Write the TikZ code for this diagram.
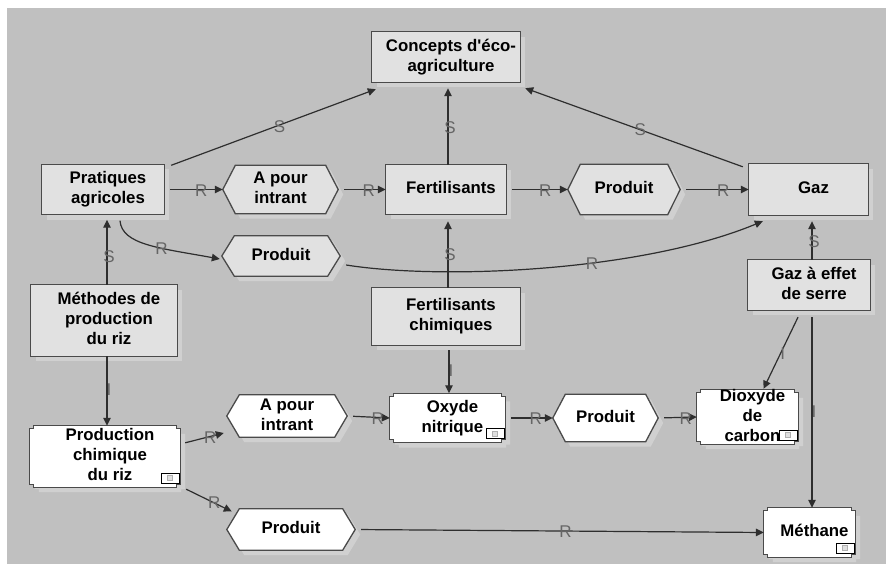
\documentclass[tikz,border=0pt]{standalone}
\usepackage{fontspec}
\setmainfont{Liberation Sans}
\usetikzlibrary{arrows.meta}

\definecolor{bgc}{HTML}{C0C0C0}
\definecolor{shadowc}{HTML}{D0D0D0}
\definecolor{boxc}{HTML}{E1E1E1}
\definecolor{framec}{HTML}{4A4A4A}
\definecolor{linec}{HTML}{2E2E2E}
\definecolor{labc}{HTML}{666666}
\definecolor{iconc}{HTML}{B0B0B0}

\pgfdeclarelayer{bg}
\pgfdeclarelayer{shapes}
\pgfsetlayers{bg,shapes,main}

% centred multi-line labels that never enlarge their node
\newcommand\btxt[1]{\smash{\raisebox{-4.5pt}{\hspace*{10pt}\begin{tabular}{@{}c@{}}#1\end{tabular}}}}
\newcommand\htxt[1]{\smash{\raisebox{-4.5pt}{\begin{tabular}{@{}c@{}}#1\end{tabular}}}}

% outline of a relation node: pointed on both sides
\newcommand\hexpath[1]{(#1.west) -- ([xshift=12.5pt]#1.north west) -- ([xshift=-12.5pt]#1.north east) -- (#1.east) -- ([xshift=-12.5pt]#1.south east) -- ([xshift=12.5pt]#1.south west) -- cycle}

% outline of an instance node: box with notched corners
\newcommand\notchpath[1]{([shift={(0,3)}]#1.north west) -- ([shift={(4,3)}]#1.north west) -- ([shift={(4,0)}]#1.north west) -- ([shift={(-4,0)}]#1.north east) -- ([shift={(-4,3)}]#1.north east) -- ([shift={(0,3)}]#1.north east) -- ([shift={(0,-3)}]#1.south east) -- ([shift={(-4,-3)}]#1.south east) -- ([shift={(-4,0)}]#1.south east) -- ([shift={(4,0)}]#1.south west) -- ([shift={(4,-3)}]#1.south west) -- ([shift={(0,-3)}]#1.south west) -- cycle}

\begin{document}
\begin{tikzpicture}[x=1pt,y=-1pt,
  item/.style={shape=rectangle, inner sep=0pt, text=black, font=\fontsize{16.8}{20}\selectfont\bfseries},
  sz/.style 2 args={minimum width=#1pt, minimum height=#2pt},
  boxframe/.style={draw=framec, line width=1.3pt, line join=miter},
  shadowfill/.style={fill=shadowc, transform canvas={xshift=5pt,yshift=-5pt}},
  conn/.style={draw=linec, line width=1.2pt, -{Triangle[length=8pt,width=7.5pt]}},
  lab/.style={font=\fontsize{17}{17}\selectfont, text=labc, inner sep=0pt, xshift=2pt, yshift=-1pt}]

\useasboundingbox (0,0) rectangle (886,564);

% concepts, relations and instances
\node[item, sz={148}{50}] (con) at (446,57)    {\btxt{Concepts d\textquotesingle éco-\\agriculture}};
\node[item, sz={122}{50}] (pra) at (103,189.5) {\btxt{Pratiques\\agricoles}};
\node[item, sz={115}{48}] (ap1) at (280.5,189.5) {\htxt{A pour\\intrant}};
\node[item, sz={120}{49}] (fer) at (446,189.5) {\btxt{Fertilisants}};
\node[item, sz={112}{50}] (pr1) at (624,189.5) {\htxt{Produit}};
\node[item, sz={119}{51}] (gaz) at (808.5,189.5) {\btxt{Gaz}};
\node[item, sz={118}{40}] (pr2) at (281,256)   {\htxt{Produit}};
\node[item, sz={122}{50}] (ges) at (809,285)   {\btxt{Gaz à effet\\de serre}};
\node[item, sz={146}{71}] (met) at (104,320.5) {\btxt{Méthodes de\\production\\du riz}};
\node[item, sz={148}{57}] (fch) at (446,316.5) {\btxt{Fertilisants\\chimiques}};
\node[item, sz={150}{61}] (pch) at (105,456.5) {\btxt{Production\\chimique\\du riz}};
\node[item, sz={120}{42}] (ap2) at (287,416)   {\htxt{A pour\\intrant}};
\node[item, sz={115}{49}] (oxy) at (447.5,418) {\btxt{Oxyde\\nitrique}};
\node[item, sz={105}{47}] (pr3) at (605.5,418) {\htxt{Produit}};
\node[item, sz={101}{54}] (dio) at (747.5,417) {\btxt{Dioxyde\\de\\carbon}};
\node[item, sz={128}{41}] (pr4) at (291,529.5) {\htxt{Produit}};
\node[item, sz={91}{49}]  (mth) at (809.5,532.5) {\btxt{Méthane}};

% page and canvas
\begin{pgfonlayer}{bg}
  \fill[white] (0,0) rectangle (886,564);
  \fill[bgc] (7,8) rectangle (886,564);
\end{pgfonlayer}

% node outlines with their shadows
\begin{pgfonlayer}{shapes}
  \foreach \n in {con,pra,fer,gaz,ges,met,fch}{
    \fill[shadowfill] (\n.north west) rectangle (\n.south east);
    \filldraw[boxframe, fill=boxc] (\n.north west) rectangle (\n.south east);
  }
  \foreach \n/\c in {ap1/boxc,pr1/boxc,pr2/boxc,ap2/white,pr3/white,pr4/white}{
    \fill[shadowfill] \hexpath{\n};
    \filldraw[boxframe, fill=\c] \hexpath{\n};
  }
  \foreach \n in {pch,oxy,dio,mth}{
    \fill[shadowfill] \notchpath{\n};
    \filldraw[boxframe, fill=white] \notchpath{\n};
    \filldraw[draw=black, line width=1.2pt, fill=white] ([shift={(-19,-14)}]\n.south east) rectangle ([shift={(-1,-4)}]\n.south east);
    \filldraw[draw=iconc, fill=iconc!40, line width=0.6pt] ([shift={(-12.5,-11.5)}]\n.south east) rectangle ([shift={(-7.5,-6.5)}]\n.south east);
  }
\end{pgfonlayer}

% subsumption links to the top concept
\draw[conn] ([shift={(7,1)}]pra.north east) -- node[lab,pos=0.52]{S} ([shift={(4,7)}]con.south west);
\draw[conn] ([xshift=2pt]fer.north) -- node[lab,pos=0.5]{S} ([shift={(2,6)}]con.south);
\draw[conn] ([shift={(-6,3)}]gaz.north west) -- node[lab,pos=0.48]{S} ([shift={(5,6)}]con.south east);

% relation chain on the upper row
\draw[conn, shorten <=6pt] (pra.east) -- node[lab,pos=0.6]{R} (ap1.west);
\draw[conn, shorten <=6pt] (ap1.east) -- node[lab,pos=0.6]{R} (fer.west);
\draw[conn, shorten <=6pt] (fer.east) -- node[lab,pos=0.6]{R} (pr1.west);
\draw[conn, shorten <=6pt] (pr1.east) -- node[lab,pos=0.6]{R} (gaz.west);

% curved relation through the middle "Produit"
\draw[conn] ([shift={(17,6)}]pra.south) .. controls (122,245) and (160,248) .. node[lab,pos=0.6]{R} ([shift={(-2,3)}]pr2.west);
\draw[conn] ([shift={(6,9)}]pr2.east) .. controls (440,280) and (640,272) .. node[lab,pos=0.6]{R} ([shift={(14,6)}]gaz.south west);

% subsumption links from below
\draw[conn, shorten >=5pt] ([xshift=3pt]met.north) -- node[lab,pos=0.41]{S} ([xshift=4pt]pra.south);
\draw[conn, shorten >=7pt] ([xshift=2pt]fch.north) -- node[lab,pos=0.46]{S} ([xshift=2pt]fer.south);
\draw[conn, shorten >=6pt] ([xshift=3pt]ges.north) -- node[lab,pos=0.44]{S} ([xshift=3.5pt]gaz.south);

% instance links
\draw[conn] ([xshift=3pt]met.south) -- node[lab,pos=0.47]{I} ([xshift=2pt]pch.north);
\draw[conn] ([shift={(3,5)}]fch.south) -- node[lab,pos=0.46]{I} ([xshift=1.5pt]oxy.north);
\draw[conn] ([shift={(-11,7)}]ges.south) -- node[lab,pos=0.5]{I} ([shift={(16,-1)}]dio.north);
\draw[conn] ([shift={(3,7)}]ges.south) -- node[lab,pos=0.49]{I} ([xshift=2.5pt]mth.north);

% relation chain on the lower rows
\draw[conn] ([shift={(5,17)}]pch.north east) -- node[lab,pos=0.6]{R} ([shift={(-3,17)}]ap2.west);
\draw[conn, shorten <=6pt] (ap2.east) -- node[lab,pos=0.67]{R} (oxy.west);
\draw[conn, shorten <=6pt] (oxy.east) -- node[lab,pos=0.6]{R} (pr3.west);
\draw[conn, shorten <=6pt] (pr3.east) -- node[lab,pos=0.66]{R} (dio.west);
\draw[conn] ([shift={(6,2)}]pch.south east) -- node[lab,pos=0.57]{R} ([shift={(5,-18)}]pr4.west);
\draw[conn, shorten <=6pt] (pr4.east) -- node[lab,pos=0.51]{R} (mth.west);
\end{tikzpicture}
\end{document}
